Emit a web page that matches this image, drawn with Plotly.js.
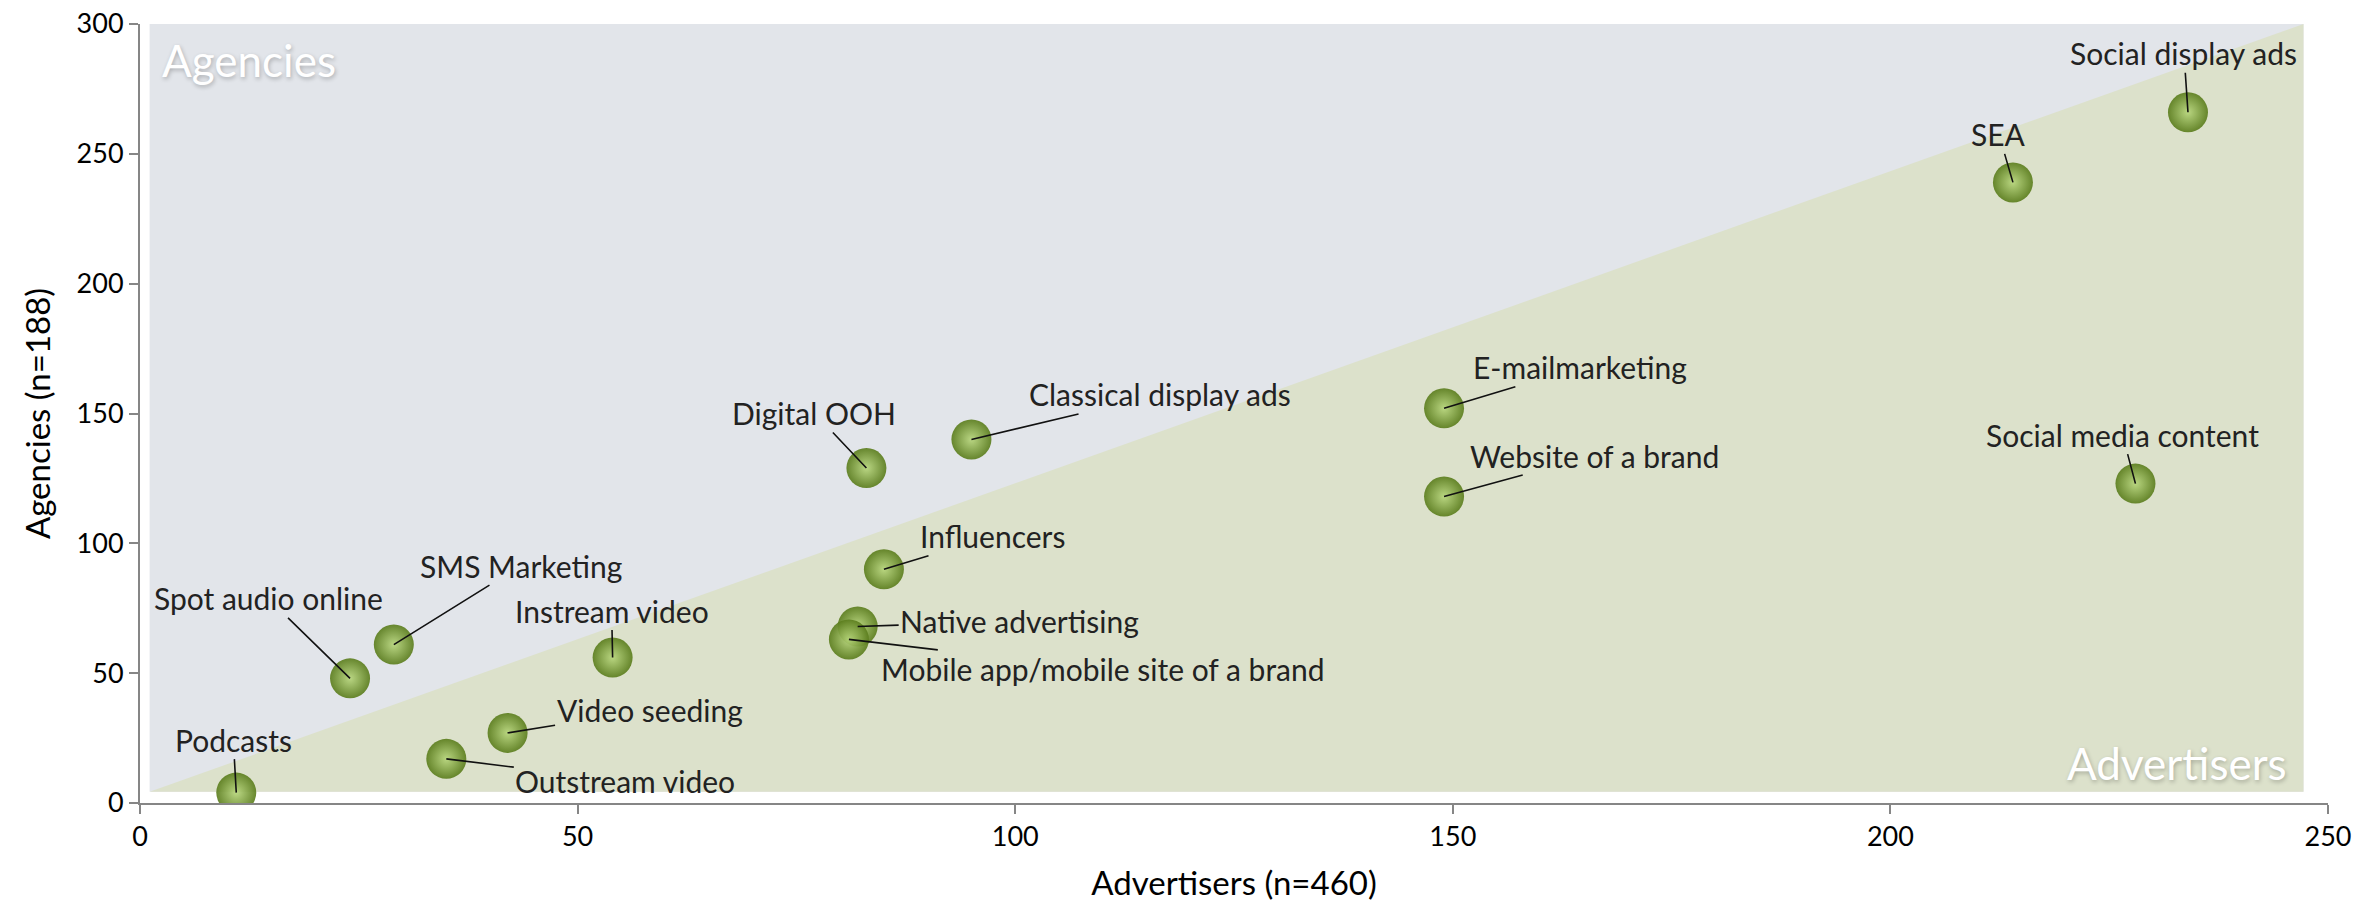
<!DOCTYPE html>
<html>
<head>
<meta charset="utf-8">
<script src="https://cdn.plot.ly/plotly-3.0.1.min.js"></script>
<style>
  body { margin: 0; background: #fff; }
  #chart { width: 2369px; height: 915px; }
</style>
</head>
<body>
<div id="chart"></div>
<script>
// channels, counted by advertisers (x) and agencies (y)
var channels = ["Podcasts", "Outstream video", "Video seeding", "Spot audio online", "SMS Marketing",
  "Instream video", "Digital OOH", "Classical display ads", "Influencers", "Native advertising",
  "Mobile app/mobile site of a brand", "E-mailmarketing", "Website of a brand", "SEA",
  "Social display ads", "Social media content"];
var advertisers = [11, 35, 42, 24, 29, 54, 83, 95, 85, 82, 81, 149, 149, 214, 234, 228];
var agencies = [4, 17, 27, 48, 61, 56, 129, 140, 90, 68, 63, 152, 118, 239, 266, 123];

// where each label sits, in pixels from its point
var labelDx = [-3, 179, 142, -82, 127, -1, -52, 189, 109, 162, 254, 136, 150, -14, -4, -13];
var labelDy = [-53, 22, -23, -80, -79, -47, -55, -45, -33, -5, 30, -41, -41, -48, -59, -49];

var font = "Lato, 'Open Sans', sans-serif";

var trace = {
  x: advertisers,
  y: agencies,
  text: channels,
  mode: "markers",
  type: "scatter",
  hoverinfo: "text",
  marker: {
    size: 40,
    color: "#5b7d1d",
    opacity: 0.92,
    gradient: {type: "radial", color: "#b6d57a"},
    line: {width: 0}
  }
};

var notes = channels.map(function (name, i) {
  return {
    x: advertisers[i], y: agencies[i], xref: "x", yref: "y",
    text: name, showarrow: true, arrowhead: 0, arrowwidth: 1.6, arrowcolor: "#111",
    standoff: 0, ax: labelDx[i], ay: labelDy[i],
    font: {family: font, size: 30, color: "#222"}
  };
});

notes.push({
  xref: "paper", yref: "paper", x: 0.009, y: 0.99, xanchor: "left", yanchor: "top",
  text: "Agencies", showarrow: false,
  font: {family: font, size: 44, color: "#ffffff", shadow: "1px 2px 4px rgba(0,0,0,0.25)"}
});
notes.push({
  xref: "paper", yref: "paper", x: 0.982, y: 0.015, xanchor: "right", yanchor: "bottom",
  text: "Advertisers", showarrow: false,
  font: {family: font, size: 44, color: "#ffffff", shadow: "1px 2px 4px rgba(0,0,0,0.25)"}
});

var layout = {
  width: 2369,
  height: 915,
  margin: {l: 140, r: 41, t: 24, b: 112},
  paper_bgcolor: "#ffffff",
  plot_bgcolor: "#ffffff",
  showlegend: false,
  font: {family: font, color: "#000"},
  xaxis: {
    range: [0, 250], dtick: 50, showgrid: false, zeroline: false,
    showline: true, linecolor: "#868686", linewidth: 2,
    ticks: "outside", ticklen: 9, tickwidth: 2, tickcolor: "#868686",
    tickfont: {family: font, size: 27, color: "#000"},
    title: {text: "Advertisers (n=460)", font: {family: font, size: 33, color: "#000"}, standoff: 20}
  },
  yaxis: {
    range: [0, 300], dtick: 50, showgrid: false, zeroline: false,
    showline: true, linecolor: "#868686", linewidth: 2,
    ticks: "outside", ticklen: 9, tickwidth: 2, tickcolor: "#868686",
    tickfont: {family: font, size: 27, color: "#000"},
    title: {text: "Agencies (n=188)", font: {family: font, size: 33, color: "#000"}, standoff: 16}
  },
  shapes: [
    {type: "rect", layer: "below", xref: "x", yref: "y", x0: 1.1, x1: 247.2, y0: 4.3, y1: 300,
      fillcolor: "#e2e5ea", line: {width: 0}},
    {type: "path", layer: "below", xref: "x", yref: "y",
      path: "M 1.1 4.3 L 247.2 300 L 247.2 4.3 Z", fillcolor: "#dce1cb", line: {width: 0}}
  ],
  annotations: notes
};

Plotly.newPlot("chart", [trace], layout, {displayModeBar: false});
</script>
</body>
</html>
